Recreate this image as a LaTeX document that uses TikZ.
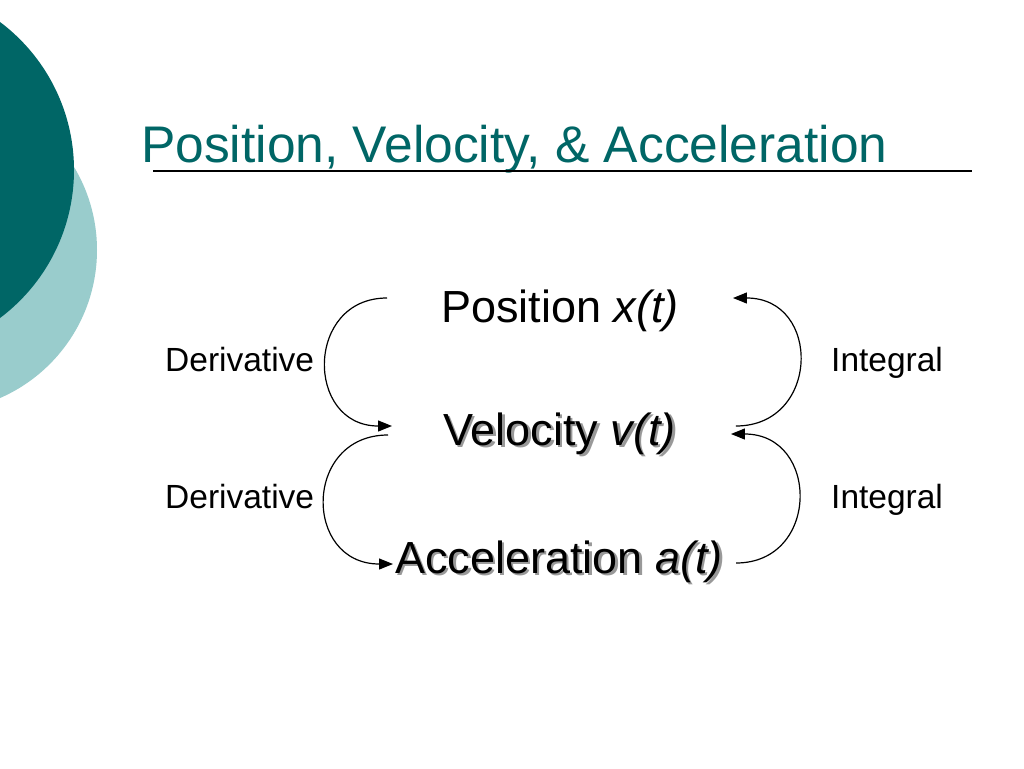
\documentclass[tikz,border=0pt]{standalone}
\usepackage{fontspec}
\setmainfont{Liberation Sans}
\usetikzlibrary{arrows.meta,calc}
\definecolor{darkteal}{RGB}{0,102,102}
\definecolor{lightteal}{RGB}{153,204,204}
\definecolor{titleteal}{RGB}{0,102,102}
\newcommand\shadowtext[1]{\leavevmode\rlap{\kern2.5pt\raisebox{-2.5pt}{\color{black!40}#1}}#1}
\begin{document}
\begin{tikzpicture}[x=1pt,y=-1pt,
  term/.style={inner sep=0pt,anchor=base west,font=\fontsize{45}{54}\selectfont},
  lbl/.style={inner sep=0pt,anchor=base west,font=\fontsize{33.5}{40}\selectfont},
  conn/.style={line width=1.2pt,-{Triangle[length=14pt,width=11pt]}}]
\useasboundingbox[fill=white] (0,0) rectangle (1024,768);
\begin{scope}
\clip (0,0) rectangle (1024,768);
\fill[lightteal] (-64.4,250) circle[radius=161.4];
\fill[darkteal] (-111,170) circle[radius=185];
\end{scope}
% title
\node[inner sep=0pt,anchor=base west,text=titleteal,font=\fontsize{51.5}{60}\selectfont] (title) at (141,162) {Position, Velocity, \& Acceleration};
\coordinate (ulA) at (153,171);
\coordinate (ulB) at (972,171);
\draw[line width=1.3pt] (ulA) -- (ulB);
% terms
\node[term] (pos) at (441,322) {Position \textit{x(t)}};
\node[term] (vel) at (443,445) {\shadowtext{Velocity \textit{v(t)}}};
\node[term] (acc) at (395,573) {\shadowtext{Acceleration \textit{a(t)}}};
% labels
\node[lbl] (d1) at (165,371) {Derivative};
\node[lbl] (d2) at (165,508) {Derivative};
\node[lbl] (i1) at (831,371) {Integral};
\node[lbl] (i2) at (831,508) {Integral};
% derivative arrows
\draw[conn] ($(pos.base west)+(-54,-24)$) .. controls ($(pos.base west)+(-136,-24)$) and ($(vel.base west)+(-138,-19)$) .. ($(vel.base west)+(-51,-19)$);
\draw[conn] ($(vel.base west)+(-55,-10)$) .. controls ($(vel.base west)+(-140,-10)$) and ($(acc.base west)+(-92,-9)$) .. ($(acc.base west)+(-2,-9)$);
% integral arrows
\draw[conn] ($(vel.base east)+(60,-19)$) .. controls ($(vel.base east)+(144,-19)$) and ($(pos.base east)+(143,-24)$) .. ($(pos.base east)+(54,-24)$);
\draw[conn] ($(acc.base east)+(13,-10)$) .. controls ($(acc.base east)+(97,-10)$) and ($(vel.base east)+(144,-11)$) .. ($(vel.base east)+(55,-11)$);
\end{tikzpicture}
\end{document}
